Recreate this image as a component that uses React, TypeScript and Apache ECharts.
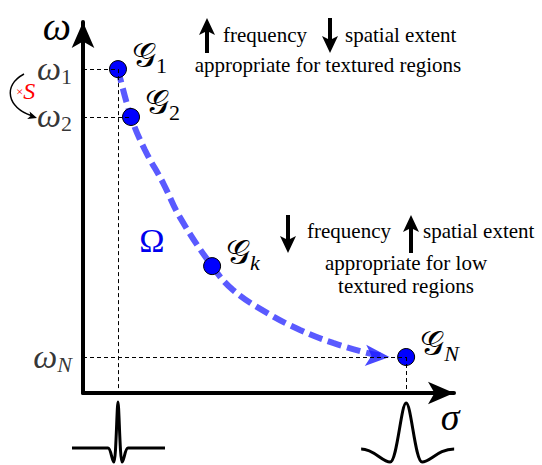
import React, { useEffect, useRef } from 'react';
import * as echarts from 'echarts';

// Gabor-like filter points G_1, G_2, G_k, G_N in (sigma, omega) space
const pointSigma = [9.43, 12.94, 34.8, 87.1];
const pointOmega = [87.3, 74.4, 34.2, 9.7];
const pointSubs = ['1', '2', 'k', 'N'];
// path Omega
const curveSigma = [9.43, 12.94, 16.7, 21.6, 26.1, 34.8, 40.4, 49.6, 58.5, 67.4, 76.5, 80.6];
const curveOmega = [87.3, 74.4, 65.5, 56.6, 47.4, 34.2, 27.8, 21.6, 17.0, 13.5, 10.8, 10.0];
const arrowHead = [82.6, 9.7];
// omega tick labels
const tickSubs = ['1', '2', 'N'];
const tickOmega = [87.3, 74.4, 9.7];

const SERIF = 'Liberation Serif, DejaVu Serif, serif';

const WAVE_NARROW =
  'M -46 0 L -10 0 C -7 0 -6 14 -4 14 C -2 14 -1 -46 0 -46 C 1 -46 2 14 4 14 C 6 14 7 0 10 0 L 47 0';
const WAVE_WIDE =
  'M -45 0 C -32 0 -24 13 -16 13 C -9 13 -5 -46 0 -46 C 5 -46 9 13 16 13 C 24 13 32 0 48 0';
echarts.graphic.registerShape('waveNarrow', echarts.graphic.extendPath(WAVE_NARROW, {}));
echarts.graphic.registerShape('waveWide', echarts.graphic.extendPath(WAVE_WIDE, {}));

function vArrow(cx: number, y1: number, y2: number, up: boolean) {
  const head = up
    ? [[cx, y1], [cx + 8, y1 + 17], [cx, y1 + 13], [cx - 8, y1 + 17]]
    : [[cx, y2], [cx + 8, y2 - 17], [cx, y2 - 13], [cx - 8, y2 - 17]];
  return {
    type: 'group',
    children: [
      {
        type: 'rect',
        shape: up ? { x: cx - 2, y: y1 + 12, width: 4, height: y2 - y1 - 12 } : { x: cx - 2, y: y1, width: 4, height: y2 - y1 - 12 },
        style: { fill: '#000' },
      },
      { type: 'polygon', shape: { points: head }, style: { fill: '#000' } },
    ],
  };
}

function txt(x: number, y: number, text: string, align = 'left', size = 21) {
  return {
    type: 'text',
    x,
    y,
    style: { text, fontFamily: SERIF, fontSize: size, fill: '#000', align, verticalAlign: 'middle' },
  };
}

const subRich = {
  g: { fontFamily: SERIF, fontSize: 34, color: '#000', verticalAlign: 'top', padding: [0, 0, 4, 0] },
  s: { fontFamily: SERIF, fontSize: 22, color: '#000', verticalAlign: 'bottom' },
  si: { fontFamily: SERIF, fontSize: 22, fontStyle: 'italic', color: '#000', verticalAlign: 'bottom' },
  w: { fontFamily: SERIF, fontSize: 34, fontStyle: 'italic', color: '#000', verticalAlign: 'top', padding: [0, 0, 2, 0] },
};

export default function App() {
  const ref = useRef<HTMLDivElement>(null);
  useEffect(() => {
    if (!ref.current) return;
    const chart = echarts.init(ref.current, undefined, { renderer: 'svg' });
    const axisCommon = {
      type: 'value',
      min: 0,
      max: 100,
      axisLine: { lineStyle: { color: '#000', width: 4 }, symbol: ['none', 'arrow'], symbolSize: [17, 26] },
      axisTick: { show: false },
      axisLabel: { show: false },
      splitLine: { show: false },
    };
    const subStyle = (s: string) => (/^[0-9]$/.test(s) ? 's' : 'si');
    const graphicStatic: any[] = [
      vArrow(207, 18, 53, true),
      txt(223, 35, 'frequency'),
      vArrow(330, 18, 53, false),
      txt(345, 35, 'spatial extent'),
      txt(328, 65, 'appropriate for textured regions', 'center'),
      vArrow(288, 215, 253, false),
      txt(307, 231, 'frequency'),
      vArrow(411, 215, 253, true),
      txt(423, 231, 'spatial extent'),
      txt(406, 263, 'appropriate for low', 'center'),
      txt(406, 286, 'textured regions', 'center'),
      {
        type: 'text',
        x: 152,
        y: 240,
        style: { text: 'Ω', fontFamily: SERIF, fontSize: 34, fill: '#0000ee', align: 'center', verticalAlign: 'middle' },
      },
      {
        type: 'bezierCurve',
        shape: { x1: 24, y1: 74, cpx1: 2, cpy1: 86, cpx2: 8, cpy2: 108, x2: 31, y2: 115.5 },
        style: { stroke: '#000', lineWidth: 1.5, fill: 'none' },
      },
      {
        type: 'polygon',
        shape: { points: [[37, 118], [29.6, 111.5], [30.5, 116], [27.2, 119.1]] },
        style: { fill: '#000' },
      },
      {
        type: 'text',
        x: 16,
        y: 91,
        style: {
          text: '{x|×}{s|S}',
          verticalAlign: 'middle',
          rich: {
            x: { fontFamily: SERIF, fontSize: 13, fill: '#ff0000', verticalAlign: 'middle' },
            s: { fontFamily: SERIF, fontSize: 24, fontStyle: 'italic', fill: '#ff0000', verticalAlign: 'middle' },
          },
        },
      },
    ];
    chart.setOption({
      animation: false,
      backgroundColor: '#fff',
      grid: { left: 83, right: 88, top: 22, bottom: 72 },
      xAxis: {
        ...axisCommon,
        name: 'σ',
        nameLocation: 'end',
        nameGap: -4,
        nameTextStyle: {
          fontFamily: SERIF,
          fontStyle: 'italic',
          fontSize: 38,
          color: '#000',
          align: 'center',
          verticalAlign: 'top',
          padding: [5, 0, 0, 0],
        },
      },
      yAxis: {
        ...axisCommon,
        name: 'ω',
        nameLocation: 'end',
        nameGap: -4,
        nameTextStyle: {
          fontFamily: SERIF,
          fontStyle: 'italic',
          fontSize: 40,
          color: '#000',
          align: 'right',
          verticalAlign: 'middle',
          padding: [0, 12, 0, 0],
        },
      },
      graphic: graphicStatic,
      series: [
        {
          type: 'scatter',
          silent: true,
          z: 1,
          symbolSize: 0,
          data: pointSigma.map((s, i) => [s, pointOmega[i]]),
          markLine: {
            silent: true,
            symbol: ['none', 'none'],
            label: { show: false },
            lineStyle: { type: [4, 3], color: '#000', width: 1 },
            data: [
              [{ coord: [0, pointOmega[0]] }, { coord: [pointSigma[0], pointOmega[0]] }],
              [{ coord: [pointSigma[0], pointOmega[0]] }, { coord: [pointSigma[0], 0] }],
              [{ coord: [0, pointOmega[1]] }, { coord: [pointSigma[1], pointOmega[1]] }],
              [{ coord: [0, pointOmega[3]] }, { coord: [pointSigma[3], pointOmega[3]] }],
              [{ coord: [pointSigma[3], pointOmega[3]] }, { coord: [pointSigma[3], 0] }],
            ],
          },
        },
        {
          type: 'line',
          z: 2,
          smooth: 0.4,
          showSymbol: false,
          data: curveSigma.map((s, i) => [s, curveOmega[i]]),
          lineStyle: { color: '#5a5aff', width: 6, type: [14, 6] },
        },
        {
          type: 'scatter',
          z: 3,
          symbol: 'arrow',
          symbolSize: [16, 24],
          symbolRotate: -94,
          data: [arrowHead],
          itemStyle: { color: '#1a1aff' },
        },
        {
          type: 'scatter',
          z: 4,
          symbolSize: 17,
          data: pointSigma.map((s, i) => [s, pointOmega[i], pointSubs[i]]),
          itemStyle: { color: '#0000ff', borderColor: '#000', borderWidth: 1, opacity: 1 },
          label: {
            show: true,
            position: 'right',
            distance: 5,
            offset: [0, -12],
            formatter: (p: any) => `{g|𝒢}{${subStyle(p.data[2])}|${p.data[2]}}`,
            rich: subRich,
          },
        },
        {
          type: 'scatter',
          z: 4,
          symbolSize: 0,
          data: tickOmega.map((v, i) => [0, v, tickSubs[i]]),
          label: {
            show: true,
            position: 'left',
            distance: 11,
            formatter: (p: any) => `{w|ω}{${subStyle(p.data[2])}|${p.data[2]}}`,
            rich: subRich,
          },
        },
      ],
    });
    const pNarrow = chart.convertToPixel({ gridIndex: 0 }, [pointSigma[0], 0]) as number[];
    const pWide = chart.convertToPixel({ gridIndex: 0 }, [pointSigma[3], 0]) as number[];
    chart.setOption({
      graphic: [
        ...graphicStatic,
        { type: 'waveNarrow', x: pNarrow[0], y: pNarrow[1] + 55, style: { stroke: '#000', lineWidth: 3, fill: 'none' } },
        { type: 'waveWide', x: pWide[0], y: pWide[1] + 56, style: { stroke: '#000', lineWidth: 3, fill: 'none' } },
      ],
    });
    return () => chart.dispose();
  }, []);
  return (
    <div
      ref={ref}
      style={{ position: 'absolute', left: 0, top: 0, width: 542, height: 465, background: '#fff' }}
    />
  );
}
